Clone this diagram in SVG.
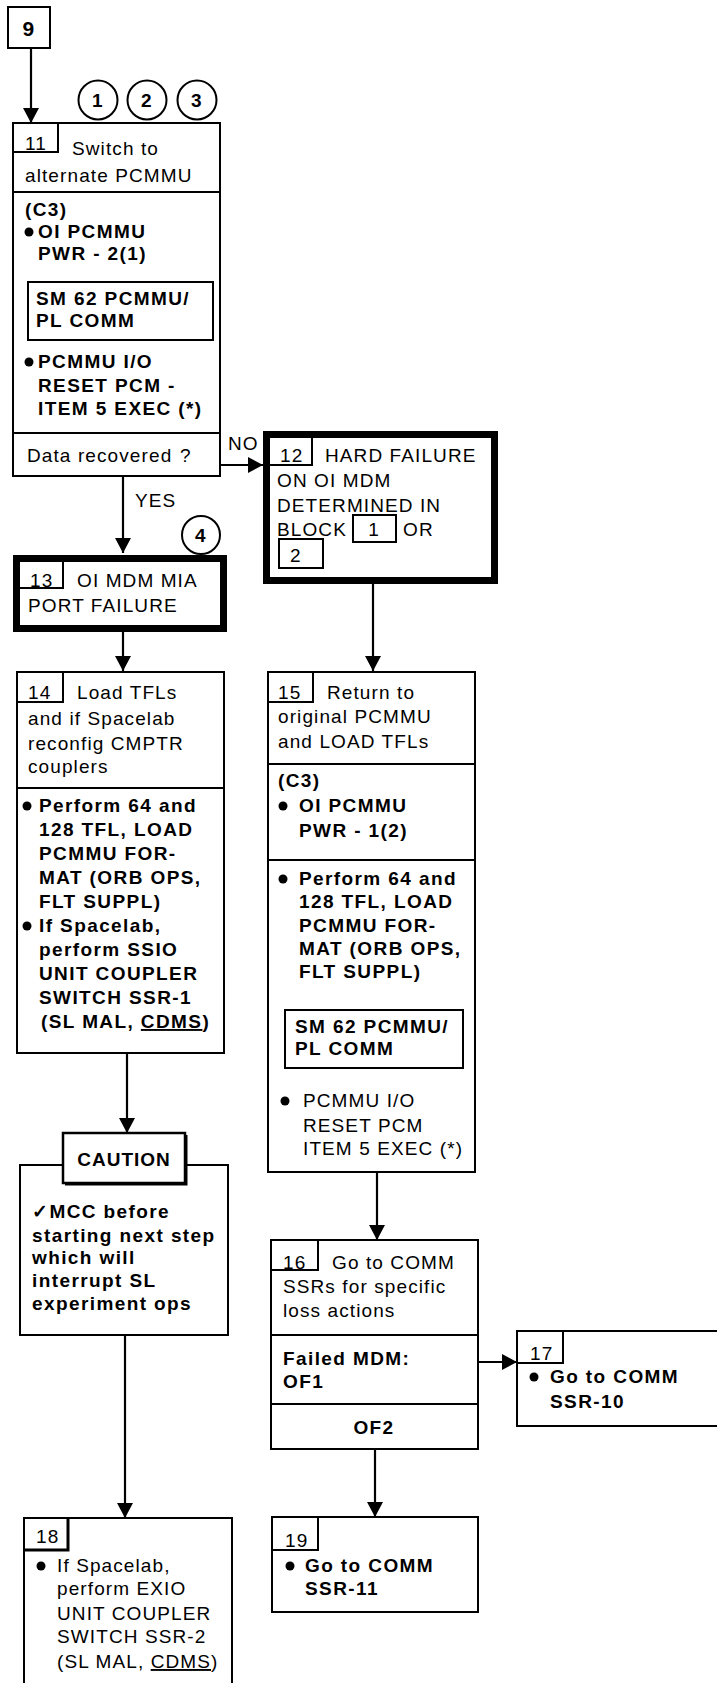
<svg xmlns="http://www.w3.org/2000/svg" width="717" height="1683" viewBox="0 0 717 1683">
<style>
.b{fill:#fff;stroke:#000;stroke-width:2}
.k{fill:#fff;stroke:#000;stroke-width:7}
.n{fill:none;stroke:#000;stroke-width:2}
.c{fill:none;stroke:#000;stroke-width:2.2;marker-end:url(#ah)}
text{font-family:"Liberation Sans",Arial,sans-serif;font-size:19px;letter-spacing:1.1px;fill:#000}
.s{font-weight:700;letter-spacing:1.4px}
.bd{font-weight:700;letter-spacing:1px}
.m{text-anchor:middle}
.dot{fill:#000}
</style>
<defs>
<marker id="ah" markerUnits="userSpaceOnUse" markerWidth="16" markerHeight="16" refX="15" refY="8" orient="auto">
<path d="M0,0 L15,8 L0,16 z" fill="#000"/>
</marker>
</defs>
<rect width="717" height="1683" fill="#fff"/>

<g id="connectors">
<line class="c" x1="31" y1="48" x2="31" y2="123"/>
<line class="c" x1="220" y1="465" x2="263" y2="465"/>
<line class="c" x1="123" y1="476" x2="123" y2="553"/>
<line class="c" x1="373" y1="584" x2="373" y2="671"/>
<line class="c" x1="123" y1="632" x2="123" y2="671"/>
<line class="c" x1="127" y1="1053" x2="127" y2="1133"/>
<line class="c" x1="125" y1="1335" x2="125" y2="1518"/>
<line class="c" x1="377" y1="1172" x2="377" y2="1240"/>
<line class="c" x1="478" y1="1362" x2="517" y2="1362"/>
<line class="c" x1="375" y1="1449" x2="375" y2="1517"/>
<text x="228" y="450">NO</text>
<text x="135" y="507">YES</text>
</g>

<g id="n9">
<rect class="b" x="8" y="7" width="42" height="41"/>
<text class="s m" x="29" y="36" style="font-size:21px">9</text>
</g>

<g id="c1">
<circle class="b" cx="98" cy="100" r="19.5"/>
<text class="s m" x="98" y="107">1</text>
</g>
<g id="c2">
<circle class="b" cx="147" cy="100" r="19.5"/>
<text class="s m" x="147" y="107">2</text>
</g>
<g id="c3">
<circle class="b" cx="197" cy="100" r="19.5"/>
<text class="s m" x="197" y="107">3</text>
</g>

<g id="n11">
<rect class="b" x="13" y="123" width="207" height="353"/>
<line class="n" x1="13" y1="192" x2="220" y2="192"/>
<line class="n" x1="13" y1="433" x2="220" y2="433"/>
<path class="n" d="M58,123 V152 H13"/>
<text x="25" y="150">11</text>
<text x="72" y="155">Switch to</text>
<text x="25" y="182">alternate PCMMU</text>
<text class="s" x="25" y="216">(C3)</text>
<circle class="dot" cx="29" cy="232" r="4.5"/>
<text class="s" x="38" y="238">OI PCMMU</text>
<text class="s" x="38" y="260">PWR - 2(1)</text>
<rect class="b" x="28" y="282" width="185" height="58"/>
<text class="s" x="36" y="305">SM 62 PCMMU/</text>
<text class="s" x="36" y="327">PL COMM</text>
<circle class="dot" cx="29" cy="362" r="4.5"/>
<text class="s" x="38" y="368">PCMMU I/O</text>
<text class="s" x="38" y="392">RESET PCM -</text>
<text class="s" x="38" y="415">ITEM 5 EXEC (*)</text>
<text x="27" y="462">Data recovered</text>
<text x="180" y="462">?</text>
</g>

<g id="n12">
<rect class="k" x="266.5" y="434.5" width="228" height="146"/>
<path class="n" d="M312,438 V465 H270"/>
<text x="280" y="462">12</text>
<text x="325" y="462">HARD FAILURE</text>
<text x="277" y="487">ON OI MDM</text>
<text x="277" y="512">DETERMINED IN</text>
<text x="277" y="536">BLOCK</text>
<rect class="b" x="353" y="515" width="43" height="27"/>
<text class="m" x="374" y="536">1</text>
<text x="403" y="536">OR</text>
<rect class="b" x="279" y="539" width="44" height="29"/>
<text x="290" y="562">2</text>
</g>

<g id="c4">
<circle class="b" cx="201" cy="535" r="19"/>
<text class="s m" x="201" y="542">4</text>
</g>

<g id="n13">
<rect class="k" x="16.5" y="558.5" width="207" height="70"/>
<path class="n" d="M63,562 V588 H20"/>
<text x="30" y="587">13</text>
<text x="77" y="587">OI MDM MIA</text>
<text x="28" y="612">PORT FAILURE</text>
</g>

<g id="n14">
<rect class="b" x="17" y="672" width="207" height="381"/>
<line class="n" x1="17" y1="788" x2="224" y2="788"/>
<path class="n" d="M63,672 V702 H17"/>
<text x="28" y="699">14</text>
<text x="77" y="699">Load TFLs</text>
<text x="28" y="725">and if Spacelab</text>
<text x="28" y="750">reconfig CMPTR</text>
<text x="28" y="773">couplers</text>
<circle class="dot" cx="27" cy="806" r="4.5"/>
<text class="s" x="39" y="812">Perform 64 and</text>
<text class="s" x="39" y="836">128 TFL, LOAD</text>
<text class="s" x="39" y="860">PCMMU FOR-</text>
<text class="s" x="39" y="884">MAT (ORB OPS,</text>
<text class="s" x="39" y="908">FLT SUPPL)</text>
<circle class="dot" cx="27" cy="926" r="4.5"/>
<text class="s" x="39" y="932">If Spacelab,</text>
<text class="s" x="39" y="956">perform SSIO</text>
<text class="s" x="39" y="980">UNIT COUPLER</text>
<text class="s" x="39" y="1004">SWITCH SSR-1</text>
<text class="s" x="41" y="1028">(SL MAL, <tspan text-decoration="underline">CDMS</tspan>)</text>
</g>

<g id="caution">
<path class="n" d="M63,1165 H20 V1335 H228 V1165 H185"/>
<rect class="b" x="63" y="1133" width="122" height="50" style="stroke-width:2.5"/>
<path class="n" d="M65,1184.5 H186.5 V1135"/>
<text class="bd m" x="124" y="1166">CAUTION</text>
<text class="s" x="32" y="1218">✓MCC before</text>
<text class="s" x="32" y="1242">starting next step</text>
<text class="s" x="32" y="1264">which will</text>
<text class="s" x="32" y="1287">interrupt SL</text>
<text class="s" x="32" y="1310">experiment ops</text>
</g>

<g id="n18">
<rect class="b" x="24" y="1518" width="208" height="175"/>
<path class="n" d="M68,1518 V1550 H24" style="stroke-width:3"/>
<text x="36" y="1543">18</text>
<circle class="dot" cx="41" cy="1566" r="4.5"/>
<text x="57" y="1572">If Spacelab,</text>
<text x="57" y="1595">perform EXIO</text>
<text x="57" y="1620">UNIT COUPLER</text>
<text x="57" y="1643">SWITCH SSR-2</text>
<text x="57" y="1668">(SL MAL, <tspan text-decoration="underline">CDMS</tspan>)</text>
</g>

<g id="n15">
<rect class="b" x="268" y="672" width="207" height="500"/>
<line class="n" x1="268" y1="764" x2="475" y2="764"/>
<line class="n" x1="268" y1="860" x2="475" y2="860"/>
<path class="n" d="M313,672 V702 H268"/>
<text x="278" y="699">15</text>
<text x="327" y="699">Return to</text>
<text x="278" y="723">original PCMMU</text>
<text x="278" y="748">and LOAD TFLs</text>
<text class="s" x="278" y="787">(C3)</text>
<circle class="dot" cx="283" cy="806" r="4.5"/>
<text class="s" x="299" y="812">OI PCMMU</text>
<text class="s" x="299" y="837">PWR - 1(2)</text>
<circle class="dot" cx="283" cy="879" r="4.5"/>
<text class="s" x="299" y="885">Perform 64 and</text>
<text class="s" x="299" y="908">128 TFL, LOAD</text>
<text class="s" x="299" y="932">PCMMU FOR-</text>
<text class="s" x="299" y="955">MAT (ORB OPS,</text>
<text class="s" x="299" y="978">FLT SUPPL)</text>
<rect class="b" x="285" y="1010" width="178" height="58"/>
<text class="s" x="295" y="1033">SM 62 PCMMU/</text>
<text class="s" x="295" y="1055">PL COMM</text>
<circle class="dot" cx="285" cy="1101" r="4.5"/>
<text x="303" y="1107">PCMMU I/O</text>
<text x="303" y="1132">RESET PCM</text>
<text x="303" y="1155">ITEM 5 EXEC (*)</text>
</g>

<g id="n16">
<rect class="b" x="271" y="1240" width="207" height="209"/>
<line class="n" x1="271" y1="1335" x2="478" y2="1335"/>
<line class="n" x1="271" y1="1404" x2="478" y2="1404"/>
<path class="n" d="M318,1240 V1270 H271"/>
<text x="283" y="1269">16</text>
<text x="332" y="1269">Go to COMM</text>
<text x="283" y="1293">SSRs for specific</text>
<text x="283" y="1317">loss actions</text>
<text class="s" x="283" y="1365">Failed MDM:</text>
<text class="s" x="283" y="1388">OF1</text>
<text class="s m" x="374" y="1434">OF2</text>
</g>

<g id="n17">
<rect class="b" x="517" y="1331" width="220" height="95"/>
<path class="n" d="M563,1331 V1363 H517"/>
<text x="530" y="1360">17</text>
<circle class="dot" cx="534" cy="1377" r="4.5"/>
<text class="s" x="550" y="1383">Go to COMM</text>
<text class="s" x="550" y="1408">SSR-10</text>
</g>

<g id="n19">
<rect class="b" x="272" y="1517" width="206" height="95"/>
<path class="n" d="M318,1517 V1550 H272"/>
<text x="285" y="1547">19</text>
<circle class="dot" cx="290" cy="1566" r="4.5"/>
<text class="s" x="305" y="1572">Go to COMM</text>
<text class="s" x="305" y="1595">SSR-11</text>
</g>
</svg>
